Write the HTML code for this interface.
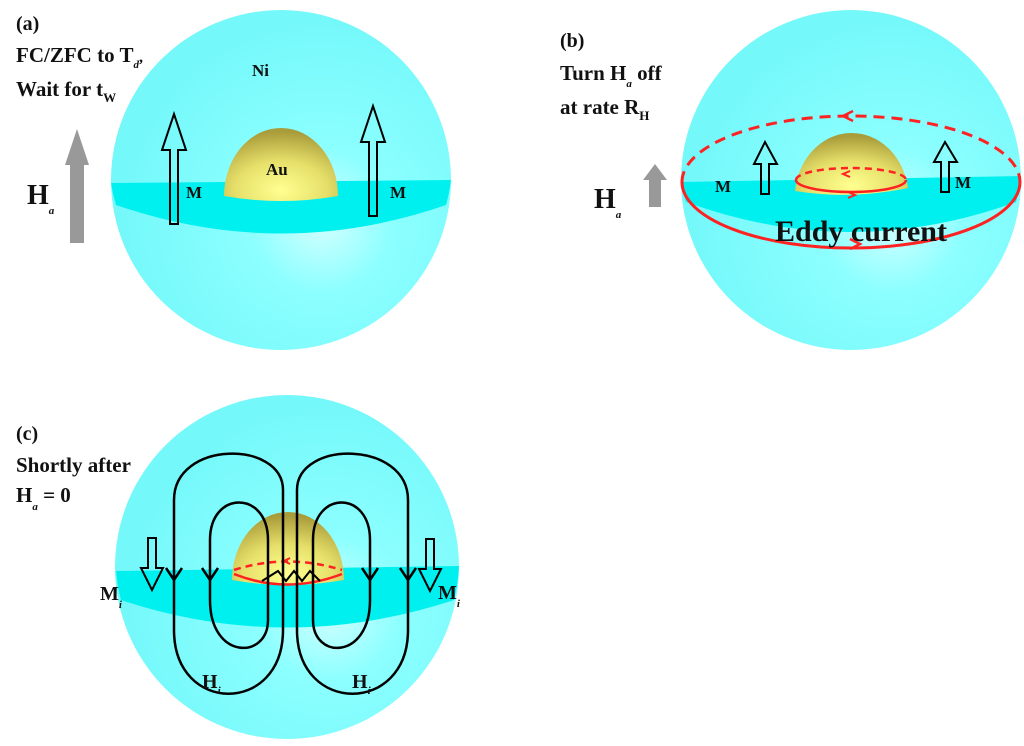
<!DOCTYPE html>
<html><head><meta charset="utf-8"><style>
html,body{margin:0;padding:0;background:#fff;}
svg{display:block;}
text{font-family:"Liberation Serif",serif;font-weight:bold;fill:#111;}
.s{font-style:italic;font-size:11px;}
</style></head><body>
<svg width="1024" height="746" viewBox="0 0 1024 746" xmlns="http://www.w3.org/2000/svg">
<defs>
<radialGradient id="sph" cx="0.62" cy="0.62" r="0.6">
<stop offset="0" stop-color="#d4ffff"/><stop offset="0.35" stop-color="#8cffff"/><stop offset="1" stop-color="#74f8fa"/>
</radialGradient>
<radialGradient id="au" cx="0.5" cy="0.85" r="0.8">
<stop offset="0" stop-color="#ffff90"/><stop offset="0.5" stop-color="#e6e06a"/><stop offset="1" stop-color="#a99c3a"/>
</radialGradient>
</defs>

<!-- Panel a -->
<g>
<circle cx="281" cy="180" r="170" fill="url(#sph)"/>
<path d="M111,183 L451,180 A170,170 0 0 1 446,205 Q281,262 116,205 A170,170 0 0 1 111,183 Z" fill="#00f0f0"/>
<path d="M224,196 A57,68 0 0 1 338,196 Q281,206 224,196 Z" fill="url(#au)"/>
<polygon points="170,224 170,150 162,150 174,114 186,150 178,150 178,224" fill="none" stroke="#000" stroke-width="2"/>
<polygon points="369,216 369,142 361,142 373,106 385,142 377,142 377,216" fill="none" stroke="#000" stroke-width="2"/>
<polygon points="70,243 70,165 65,165 77,129 89,165 84,165 84,243" fill="#999"/>
<text x="16" y="30" font-size="20">(a)</text>
<text x="16" y="62" font-size="21">FC/ZFC to T<tspan class="s" dy="6">d</tspan><tspan dy="-6" font-size="16">,</tspan></text>
<text x="16" y="96" font-size="21">Wait for t<tspan dy="6" font-size="13">W</tspan></text>
<text x="252" y="76" font-size="17">Ni</text>
<text x="266" y="175" font-size="17">Au</text>
<text x="186" y="198" font-size="17">M</text>
<text x="390" y="198" font-size="17">M</text>
<text x="27" y="204" font-size="28">H<tspan class="s" dy="10" font-size="10">a</tspan></text>
</g>

<!-- Panel b -->
<g>
<circle cx="851" cy="180" r="170" fill="url(#sph)"/>
<path d="M681,182 L1021,176 A170,170 0 0 1 1016,202 Q851,262 686,202 A170,170 0 0 1 681,182 Z" fill="#00f0f0"/>
<path d="M795,191 A57,65 0 0 1 908,188 Q851,200 795,191 Z" fill="url(#au)"/>
<path d="M796,180 A55,12 0 0 1 906,180" fill="none" stroke="#f22" stroke-width="2.5" stroke-dasharray="7,5"/>
<path d="M796,180 A55,12 0 0 0 906,180" fill="none" stroke="#f22" stroke-width="2.5"/>
<path d="M850,171 l-7,3 7,3" fill="none" stroke="#f22" stroke-width="2"/>
<path d="M848,198 l7,-3 -7,-3" fill="none" stroke="#f22" stroke-width="2"/>
<path d="M682,182 A169,66 0 0 1 1020,182" fill="none" stroke="#f22" stroke-width="3" stroke-dasharray="11,7"/>
<path d="M682,182 A169,66 0 0 0 1020,182" fill="none" stroke="#f22" stroke-width="3"/>
<path d="M853,111 l-10,5 10,5" fill="none" stroke="#f22" stroke-width="2.5"/>
<path d="M850,239 l10,5 -10,5" fill="none" stroke="#f22" stroke-width="2.5"/>
<polygon points="761,194 761,164 754,164 765,142 777,164 769,164 769,194" fill="none" stroke="#000" stroke-width="2"/>
<polygon points="941,192 941,162 934,162 945,142 957,162 949,162 949,192" fill="none" stroke="#000" stroke-width="2"/>
<polygon points="649,207 649,180 643,180 655,164 667,180 661,180 661,207" fill="#999"/>
<text x="560" y="47" font-size="20">(b)</text>
<text x="560" y="80" font-size="21">Turn H<tspan class="s" dy="7" font-size="10">a</tspan><tspan dy="-7"> off</tspan></text>
<text x="560" y="114" font-size="21">at rate R<tspan dy="6" font-size="13">H</tspan></text>
<text x="715" y="192" font-size="17">M</text>
<text x="955" y="188" font-size="17">M</text>
<text x="594" y="208" font-size="28">H<tspan class="s" dy="10" font-size="10">a</tspan></text>
<text x="775" y="241" font-size="30">Eddy current</text>
</g>

<!-- Panel c -->
<g>
<circle cx="287" cy="567" r="172" fill="url(#sph)"/>
<path d="M116,571 L459,566 A172,172 0 0 1 454,600 Q287,655 121,600 A172,172 0 0 1 116,571 Z" fill="#00f0f0"/>
<path d="M232,580 A56,68 0 0 1 344,580 Q287,590 232,580 Z" fill="url(#au)"/>
<path d="M234,570 Q287,553 342,570" fill="none" stroke="#f22" stroke-width="2.5" stroke-dasharray="7,5"/>
<path d="M234,574 Q287,595 342,574" fill="none" stroke="#f22" stroke-width="2.5"/>
<path d="M290,558 l-6,3 6,3" fill="none" stroke="#f22" stroke-width="2"/>
<path d="M262,581 l16,-10 8,10 8,-10 8,10 8,-10 10,10" fill="none" stroke="#000" stroke-width="2"/>
<g fill="none" stroke="#000" stroke-width="2.5">
<path d="M283,630 L283,490 C283,440 174,440 174,500 L174,630 C174,715 283,715 283,630 Z"/>
<path d="M268,620 L268,540 C268,490 210,490 210,540 L210,600 C210,660 268,660 268,620 Z"/>
<path d="M297,630 L297,490 C297,440 408,440 408,500 L408,630 C408,715 297,715 297,630 Z"/>
<path d="M313,620 L313,540 C313,490 370,490 370,540 L370,600 C370,660 313,660 313,620 Z"/>
<path d="M166,568 l8,12 8,-12 M202,568 l8,12 8,-12 M362,568 l8,12 8,-12 M400,568 l8,12 8,-12"/>
</g>
<polygon points="148,538 148,568 141,568 152,590 163,568 156,568 156,538" fill="none" stroke="#000" stroke-width="2"/>
<polygon points="426,539 426,569 419,569 430,591 441,569 434,569 434,539" fill="none" stroke="#000" stroke-width="2"/>
<text x="16" y="440" font-size="20">(c)</text>
<text x="16" y="472" font-size="21">Shortly after</text>
<text x="16" y="502" font-size="21">H<tspan class="s" dy="8" font-size="10">a</tspan><tspan dy="-8"> = 0</tspan></text>
<text x="100" y="600" font-size="20">M<tspan class="s" dy="8" font-size="14">i</tspan></text>
<text x="438" y="599" font-size="20">M<tspan class="s" dy="8" font-size="14">i</tspan></text>
<text x="202" y="688" font-size="20">H<tspan class="s" dy="6" font-size="14">i</tspan></text>
<text x="352" y="688" font-size="20">H<tspan class="s" dy="6" font-size="14">i</tspan></text>
</g>
</svg>
</body></html>
